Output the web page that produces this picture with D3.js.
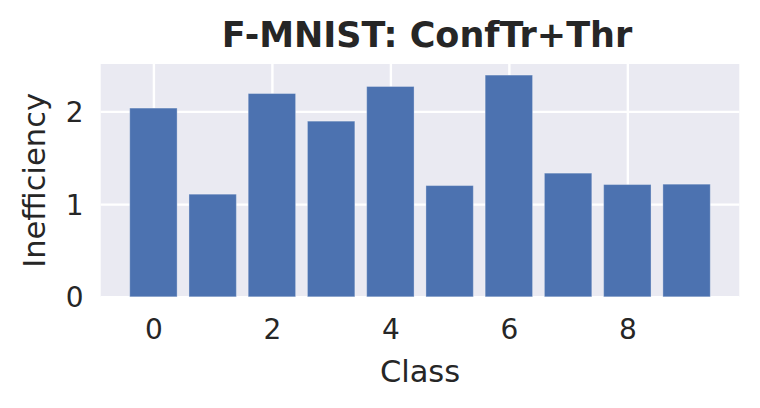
<!DOCTYPE html>
<html>
<head>
<meta charset="utf-8">
<script src="https://cdn.jsdelivr.net/npm/d3@7"></script>
<style>
  html, body { margin: 0; padding: 0; background: #ffffff; }
  svg { display: block; font-family: "DejaVu Sans", sans-serif; }
</style>
</head>
<body>
<svg id="chart" width="760" height="408"></svg>
<script>
// ---- data ----
const title = "F-MNIST: ConfTr+Thr";
const xLabel = "Class";
const yLabel = "Inefficiency";
const classes = [0, 1, 2, 3, 4, 5, 6, 7, 8, 9];
const inefficiency = [2.036, 1.107, 2.193, 1.895, 2.269, 1.200, 2.392, 1.334, 1.211, 1.215];
const xTicks = [0, 2, 4, 6, 8];
const yTicks = [0, 1, 2];

// ---- layout ----
const W = 760, H = 408;
const plot = { left: 100.7, right: 739.3, top: 64, bottom: 296.8 };
const barWidth = 0.8;

const svg = d3.select("#chart");

const xMin = d3.min(classes) - barWidth / 2, xMax = d3.max(classes) + barWidth / 2;
const xPad = (xMax - xMin) * 0.05;
const x = d3.scaleLinear().domain([xMin - xPad, xMax + xPad]).range([plot.left, plot.right]);
const y = d3.scaleLinear().domain([0, d3.max(inefficiency) * 1.05]).range([plot.bottom, plot.top]);

// background
svg.append("rect")
  .attr("x", plot.left).attr("y", plot.top)
  .attr("width", plot.right - plot.left).attr("height", plot.bottom - plot.top)
  .attr("fill", "#eaeaf2");

// grid
const xAxis = d3.axisBottom(x).tickValues(xTicks).tickSize(-(plot.bottom - plot.top)).tickPadding(0).tickFormat(d3.format("d"));
const yAxis = d3.axisLeft(y).tickValues(yTicks).tickSize(-(plot.right - plot.left)).tickPadding(0).tickFormat(d3.format("d"));

const gx = svg.append("g").attr("transform", `translate(0,${plot.bottom})`).call(xAxis);
const gy = svg.append("g").attr("transform", `translate(${plot.left},0)`).call(yAxis);
[gx, gy].forEach(g => {
  g.select(".domain").remove();
  g.selectAll(".tick line").attr("stroke", "#ffffff").attr("stroke-width", 2.4);
  g.selectAll(".tick text").attr("fill", "#262626").attr("font-size", 28)
    .attr("font-family", "DejaVu Sans, sans-serif");
});
gx.selectAll(".tick text").attr("y", 42.5).attr("dy", null);
gy.selectAll(".tick text").attr("x", -17).attr("dy", "0.36em");

// bars
svg.append("g").selectAll("rect.bar")
  .data(classes.map((c, i) => ({ c, v: inefficiency[i] })))
  .join("rect")
  .attr("class", "bar")
  .attr("x", d => x(d.c - barWidth / 2))
  .attr("width", d => x(d.c + barWidth / 2) - x(d.c - barWidth / 2))
  .attr("y", d => y(d.v))
  .attr("height", d => y(0) - y(d.v))
  .attr("fill", "#4c72b0")
  .attr("stroke", "#ffffff").attr("stroke-opacity", 0.3).attr("stroke-width", 1);

// title
svg.append("text")
  .attr("x", 427).attr("y", 47.3)
  .attr("text-anchor", "middle")
  .attr("font-size", 35).attr("font-weight", "bold")
  .attr("fill", "#262626")
  .text(title);

// x label
svg.append("text")
  .attr("x", (plot.left + plot.right) / 2).attr("y", 381.5)
  .attr("text-anchor", "middle")
  .attr("font-size", 30.5)
  .attr("fill", "#262626")
  .text(xLabel);

// y label
svg.append("text")
  .attr("transform", `translate(45,${(plot.top + plot.bottom) / 2}) rotate(-90)`)
  .attr("text-anchor", "middle")
  .attr("font-size", 30.5)
  .attr("fill", "#262626")
  .text(yLabel);
</script>
</body>
</html>
